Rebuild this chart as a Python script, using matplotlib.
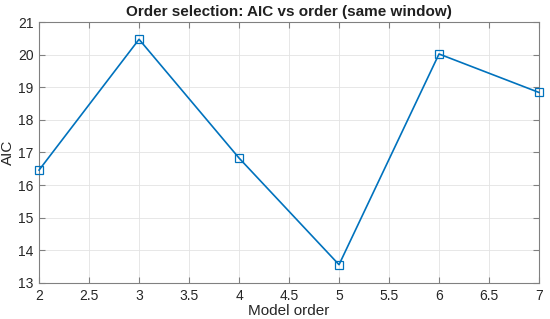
'''AIC vs model order'''

import matplotlib
matplotlib.use('Agg')
from matplotlib import pyplot as plt

# data
orders = [2, 3, 4, 5, 6, 7]
aic = [16.46, 20.47, 16.83, 13.56, 20.02, 18.84]

plt.rcParams['font.family'] = ['Liberation Sans', 'DejaVu Sans']

fig = plt.figure(figsize=(5.5, 3.19), dpi=100)
ax = fig.add_axes([0.071, 0.113, 0.909, 0.818])

ax.plot(orders, aic, color='#0072BD', linewidth=1.2, marker='s',
        markersize=5.5, markerfacecolor='none', markeredgewidth=0.9,
        clip_on=False, zorder=3)

ax.set_xlim(2, 7)
ax.set_ylim(13, 21)
ax.set_xticks([2, 2.5, 3, 3.5, 4, 4.5, 5, 5.5, 6, 6.5, 7])
ax.set_xticklabels(['2', '2.5', '3', '3.5', '4', '4.5', '5', '5.5', '6', '6.5', '7'])
ax.set_yticks(range(13, 22))

# matlab-ish look
ax.grid(True, color='#e3e3e3', linewidth=0.6)
ax.set_axisbelow(True)
for s in ax.spines.values():
    s.set_color('#808080')
    s.set_linewidth(0.8)
ax.tick_params(direction='in', top=True, right=True, length=4,
               color='#808080', labelsize=10, labelcolor='#262626', pad=4)

ax.set_xlabel('Model order', fontsize=11, color='#262626', labelpad=1)
ax.set_ylabel('AIC', fontsize=11, color='#262626', labelpad=2)
ax.set_title('Order selection: AIC vs order (same window)', fontsize=11,
             fontweight='bold', color='#202020', pad=4)

fig.savefig('out.png', dpi=100)
